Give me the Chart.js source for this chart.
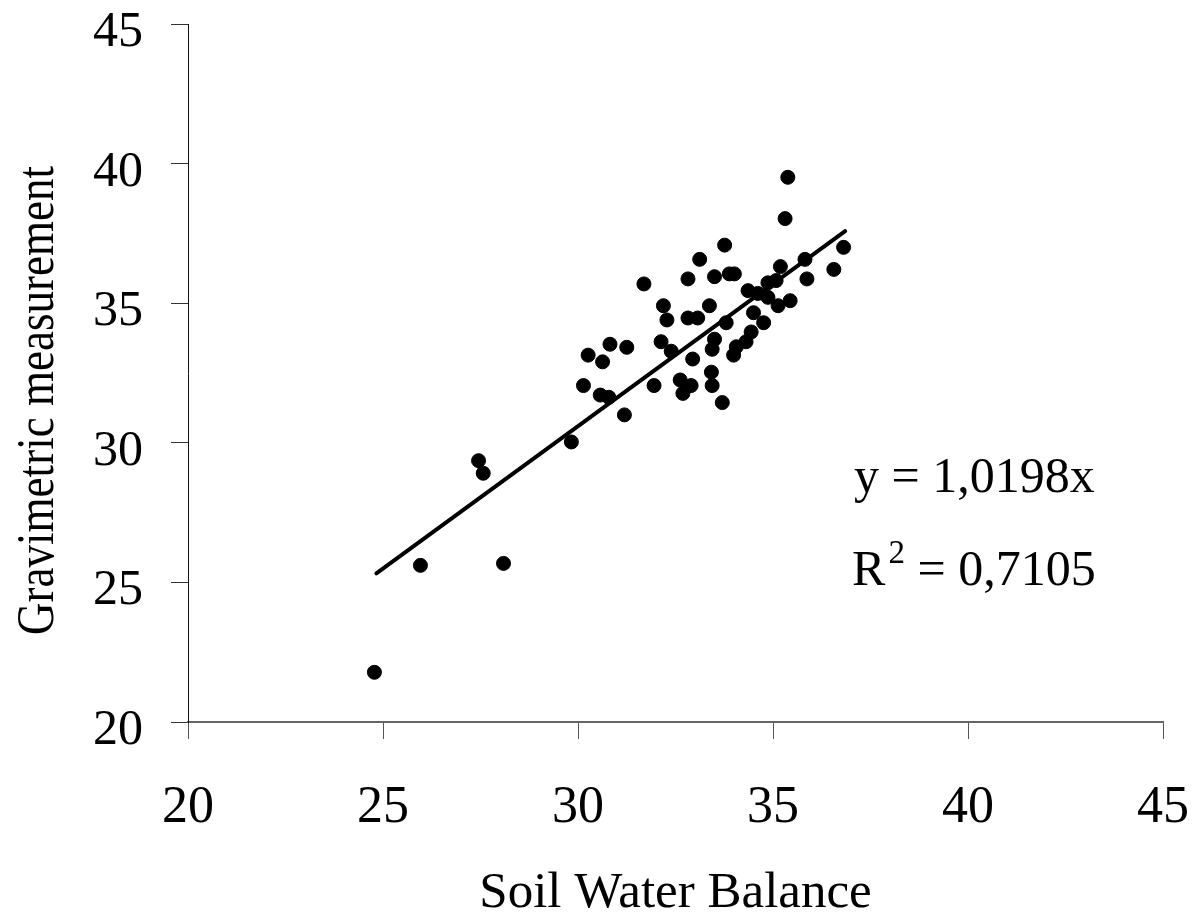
<!DOCTYPE html>
<html>
<head>
<meta charset="utf-8">
<script src="https://cdn.jsdelivr.net/npm/chart.js@4.4.0/dist/chart.umd.min.js"></script>
<style>
  html, body { margin: 0; padding: 0; background: #fff; overflow: hidden; }
  #wrap { width: 1194px; height: 917px; position: relative; }
</style>
</head>
<body>
<div id="wrap"><canvas id="chart"></canvas></div>
<script>
// values
const soilWaterBalance = [
  35.38, 35.31, 33.76, 33.12, 35.82, 36.81, 35.19, 32.82, 33.50, 33.88,
  34.01, 31.69, 35.87, 36.56, 34.87, 35.08, 34.36, 34.61, 34.87, 32.19,
  33.37, 35.44, 35.13, 32.28, 32.82, 33.07, 34.50, 33.80, 34.76, 34.44,
  33.50, 30.82, 31.25, 30.26, 32.13, 32.39, 34.31, 34.06, 33.44, 33.99,
  30.63, 32.94, 30.14, 31.95, 32.62, 32.90, 32.69, 33.42, 33.44, 30.57,
  30.79, 33.70, 31.19, 29.83, 27.45, 27.57, 25.96, 28.09, 24.78
];
const gravimetric = [
  39.51, 38.03, 37.08, 36.57, 36.57, 37.00, 36.31, 35.87, 35.95, 36.05,
  36.05, 35.69, 35.87, 36.21, 35.73, 35.81, 35.45, 35.35, 35.21, 34.91,
  34.91, 35.09, 34.91, 34.40, 34.47, 34.47, 34.66, 34.30, 34.30, 33.97,
  33.71, 33.53, 33.42, 33.14, 33.62, 33.28, 33.62, 33.44, 33.35, 33.14,
  32.90, 33.00, 32.05, 32.05, 32.25, 32.05, 31.77, 32.53, 32.05, 31.71,
  31.63, 31.44, 31.00, 30.03, 29.36, 28.91, 25.61, 25.68, 21.78
];

// trend line through the origin, y = 1.0198x
const slope = 1.0198;
const trendX = [24.83, 36.85];
const equationText = "y = 1,0198x";
const r2Text = " = 0,7105";

const xTitle = "Soil Water Balance";
const yTitle = "Gravimetric measurement";

const serif = "'Liberation Serif', 'Times New Roman', serif";

const points = soilWaterBalance.map((x, i) => ({ x: x, y: gravimetric[i] }));
const trend = trendX.map((x) => ({ x: x, y: slope * x }));

// tick labels, titles and the equation box are drawn here
const textPlugin = {
  id: "texts",
  afterDraw(chart) {
    const { ctx, chartArea } = chart;
    const xs = chart.scales.x;
    const ys = chart.scales.y;
    ctx.save();
    ctx.fillStyle = "#000";
    ctx.textBaseline = "alphabetic";

    // x tick labels
    ctx.font = "52px " + serif;
    ctx.textAlign = "center";
    xs.ticks.forEach((t) => {
      ctx.fillText(String(t.value), xs.getPixelForValue(t.value), chartArea.bottom + 100);
    });

    // y tick labels
    ctx.font = "50px " + serif;
    ctx.textAlign = "right";
    ys.ticks.forEach((t) => {
      const py = ys.getPixelForValue(t.value);
      ctx.fillText(String(t.value), chartArea.left - 45, py + 22);
    });

    // y title
    ctx.save();
    ctx.font = "53px " + serif;
    ctx.textAlign = "left";
    ctx.translate(53, 635);
    ctx.rotate(-Math.PI / 2);
    ctx.scale(0.85, 1);
    ctx.fillText(yTitle, 0, 0);
    ctx.restore();

    // x title
    ctx.font = "51px " + serif;
    ctx.textAlign = "center";
    ctx.fillText(xTitle, (chartArea.left + chartArea.right) / 2, 907);

    // equation and R squared
    const ex = xs.getPixelForValue(37.08);
    ctx.textAlign = "left";
    ctx.font = "50px " + serif;
    ctx.fillText(equationText, ex, 492);

    const ry = 585;
    ctx.fillText("R", ex - 2, ry);
    let w = ex - 2 + ctx.measureText("R").width + 3;
    ctx.font = "33px " + serif;
    ctx.fillText("2", w, ry - 22);
    w += ctx.measureText("2").width;
    ctx.font = "50px " + serif;
    ctx.fillText(r2Text, w, ry);

    ctx.restore();
  },
};

const ctx = document.getElementById("chart").getContext("2d");
new Chart(ctx, {
  type: "scatter",
  data: {
    datasets: [
      {
        data: points,
        backgroundColor: "#000",
        borderColor: "#000",
        borderWidth: 1,
        pointRadius: 7,
        pointHoverRadius: 7,
      },
      {
        type: "line",
        data: trend,
        borderColor: "#000",
        borderWidth: 4,
        borderCapStyle: "round",
        pointRadius: 0,
        fill: false,
      },
    ],
  },
  options: {
    responsive: true,
    maintainAspectRatio: false,
    animation: false,
    layout: { padding: { top: 24, right: 31, left: 0, bottom: 0 } },
    plugins: { legend: { display: false }, tooltip: { enabled: false } },
    scales: {
      x: {
        type: "linear",
        min: 20,
        max: 45,
        ticks: { stepSize: 5, display: false },
        grid: { drawOnChartArea: false, tickLength: 17, color: "#555", lineWidth: 1 },
        border: { display: true, color: "#666", width: 2 },
        afterFit: (s) => { s.height = 195; },
      },
      y: {
        type: "linear",
        min: 20,
        max: 45,
        ticks: { stepSize: 5, display: false },
        grid: { drawOnChartArea: false, tickLength: 17, color: "#333", lineWidth: 1 },
        border: { display: true, color: "#111", width: 1 },
        afterFit: (s) => { s.width = 188; },
      },
    },
  },
  plugins: [textPlugin],
});
</script>
</body>
</html>
